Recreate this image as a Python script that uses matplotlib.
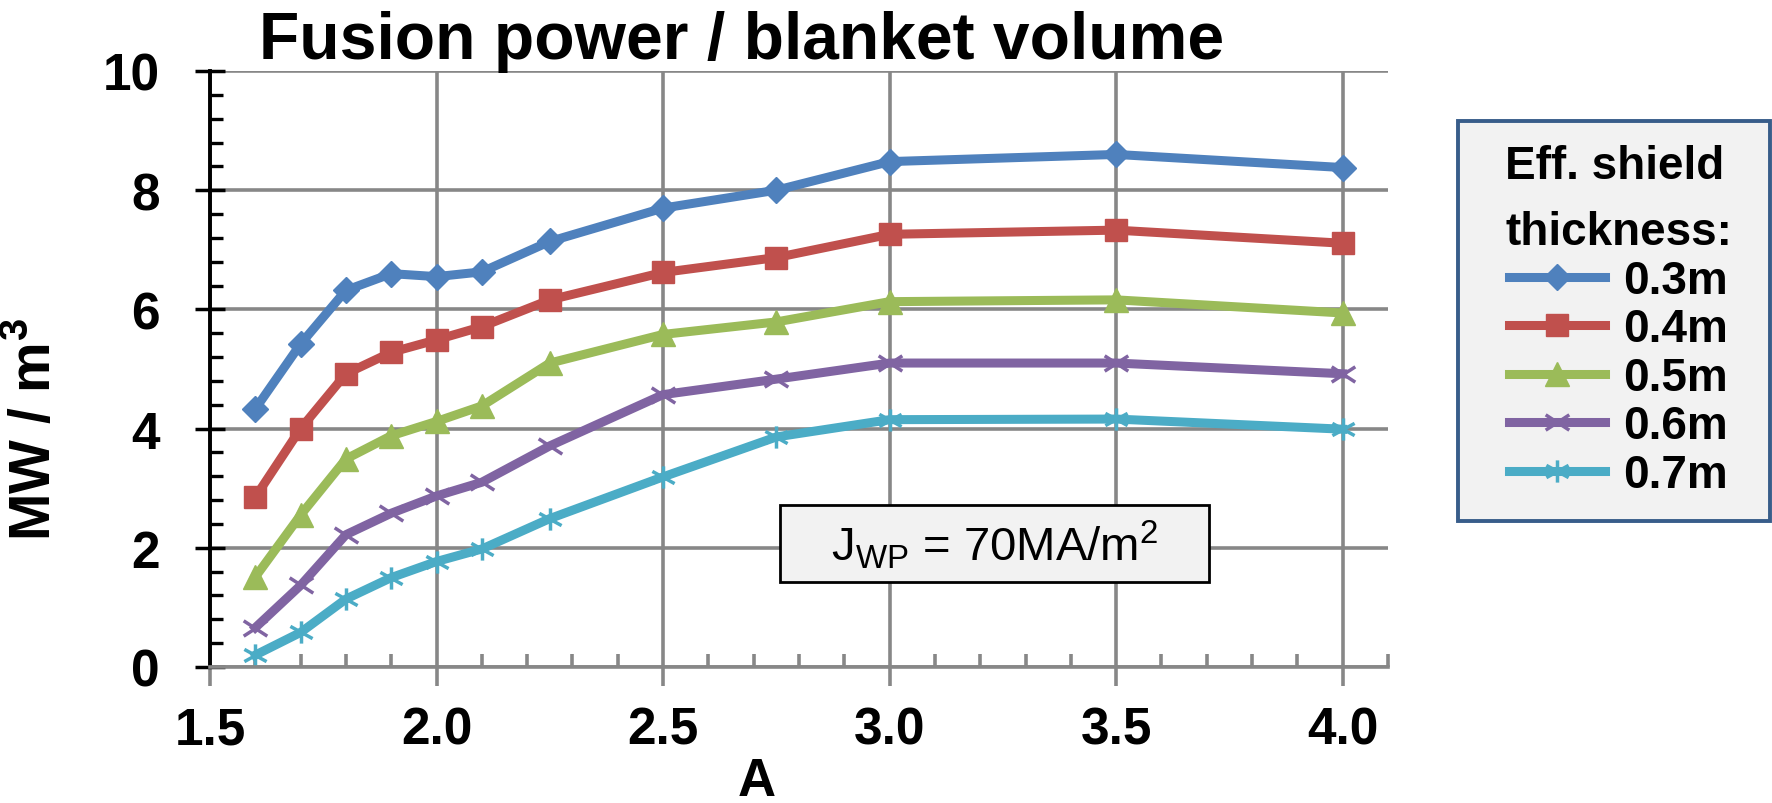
import numpy as np
import matplotlib.pyplot as plt
from matplotlib.path import Path
from matplotlib.patches import Rectangle
from matplotlib.ticker import MultipleLocator

plt.rcParams['font.family'] = ['Liberation Sans', 'DejaVu Sans']
plt.rcParams['mathtext.fontset'] = 'custom'
plt.rcParams['mathtext.rm'] = 'Liberation Sans'
plt.rcParams['mathtext.bf'] = 'Liberation Sans:bold'

# Aspect ratio A
aspect = [1.6, 1.7, 1.8, 1.9, 2.0, 2.1, 2.25, 2.5, 2.75, 3.0, 3.5, 4.0]

# Fusion power / blanket volume (MW/m^3) per effective shield thickness
p_03 = [4.33, 5.42, 6.32, 6.60, 6.55, 6.63, 7.14, 7.70, 8.00, 8.48, 8.60, 8.38]
p_04 = [2.85, 4.00, 4.92, 5.28, 5.49, 5.71, 6.16, 6.62, 6.87, 7.26, 7.33, 7.11]
p_05 = [1.51, 2.55, 3.49, 3.88, 4.12, 4.38, 5.10, 5.58, 5.79, 6.13, 6.16, 5.94]
p_06 = [0.66, 1.37, 2.22, 2.58, 2.87, 3.10, 3.71, 4.57, 4.83, 5.10, 5.10, 4.92]
p_07 = [0.20, 0.58, 1.14, 1.50, 1.77, 1.98, 2.49, 3.19, 3.86, 4.15, 4.16, 3.99]

labels = ['0.3m', '0.4m', '0.5m', '0.6m', '0.7m']
colors = ['#4F81BD', '#C0504D', '#9BBB59', '#8064A2', '#4BACC6']

# Excel-like "x" and "star" markers
xmark = Path([(-1, -0.65), (1, 0.65), (-1, 0.65), (1, -0.65)],
             [Path.MOVETO, Path.LINETO, Path.MOVETO, Path.LINETO])
star = Path([(0, -1), (0, 1), (-1, -0.55), (1, 0.55), (-1, 0.55), (1, -0.55)],
            [Path.MOVETO, Path.LINETO] * 3)

fig = plt.figure(figsize=(17.72, 8.04), dpi=100)
ax = fig.add_axes([210 / 1772, 1 - 668 / 804, 1178 / 1772, 596 / 804])

series = [p_03, p_04, p_05, p_06, p_07]
styles = [dict(marker='D', ms=13),
          dict(marker='s', ms=16),
          dict(marker='^', ms=17),
          dict(marker=xmark, ms=17, mew=2.5, mfc='none'),
          dict(marker=star, ms=16, mew=2.5, mfc='none')]

for vals, lab, col, st in zip(series, labels, colors, styles):
    ax.plot(aspect, vals, color=col, lw=6.5, label=lab, mec=col, **st)

ax.set_xlim(1.5, 4.1)
ax.set_ylim(0, 10)
ax.xaxis.set_minor_locator(MultipleLocator(0.1))
ax.yaxis.set_major_locator(MultipleLocator(2))
ax.yaxis.set_minor_locator(MultipleLocator(0.4))
ax.set_xticks([1.5, 2.0, 2.5, 3.0, 3.5, 4.0])
ax.set_xticklabels(['1.5', '2.0', '2.5', '3.0', '3.5', '4.0'])

grey = '#878787'
ax.grid(which='major', color=grey, lw=2.6)
ax.set_axisbelow(True)
ax.spines['top'].set_visible(False)
ax.spines['right'].set_visible(False)
ax.spines['bottom'].set_color(grey)
ax.spines['bottom'].set_linewidth(2.6)
ax.spines['left'].set_color('black')
ax.spines['left'].set_linewidth(2.8)

ax.tick_params(axis='y', which='major', direction='inout', length=22, width=2.5,
               color='black', pad=25, labelsize=37)
ax.tick_params(axis='y', which='minor', direction='in', length=9.5, width=2.4,
               color='black')
ax.tick_params(axis='x', which='major', direction='out', length=13.5, width=2.6,
               color=grey, pad=14, labelsize=37)
ax.tick_params(axis='x', which='minor', direction='in', length=9.5, width=2.6,
               color=grey)
for t in ax.get_xticklabels() + ax.get_yticklabels():
    t.set_fontweight('bold')

ax.set_xlabel('A', fontsize=38, fontweight='bold')
ax.xaxis.set_label_coords(0.4645, -0.15)
ax.set_ylabel(r'MW / m$^{\mathbf{3}}$', fontsize=41, fontweight='bold')
ax.yaxis.set_label_coords(-0.1245, 0.4)

fig.text(0.4187, 0.948, 'Fusion power / blanket volume', ha='center', va='center',
         fontsize=47.5, fontweight='bold')

# J_WP annotation box
ax.add_patch(Rectangle((0.4839, 0.1426), 0.3642, 0.129, transform=ax.transAxes,
                       fc='#F2F2F2', ec='black', lw=2, zorder=5))
ax.text(0.666, 0.207, r'J$_{\mathrm{WP}}$ = 70MA/m$^{\mathrm{2}}$', transform=ax.transAxes,
        ha='center', va='center', fontsize=34, zorder=6)

# legend frame drawn separately so its padding can match the original
fig.patches.append(Rectangle((1458 / 1772, 1 - 522 / 804), 312 / 1772, 400 / 804,
                             transform=fig.transFigure, fc='#F2F2F2', ec='#385D8A',
                             lw=2.8, zorder=0))
leg = fig.legend(loc='upper left', bbox_to_anchor=(1505 / 1772, 1 - 145 / 804),
                 title='Eff. shield\nthickness:',
                 title_fontproperties={'weight': 'bold', 'size': 33},
                 prop={'weight': 'bold', 'size': 33},
                 handlelength=2.1, handletextpad=0.4, labelspacing=0.1,
                 borderpad=0, borderaxespad=0, frameon=False)
leg.get_title().set_linespacing(1.65)

fig.savefig('out.png', dpi=100)
